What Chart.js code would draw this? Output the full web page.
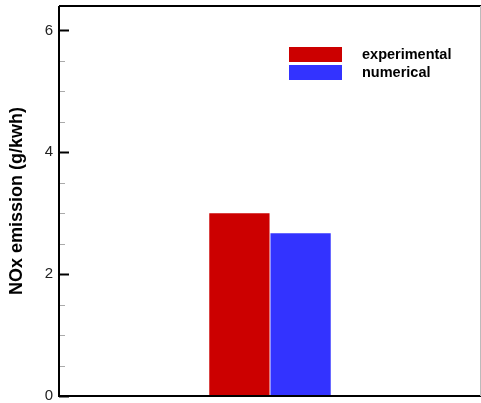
<!DOCTYPE html>
<html>
<head>
<meta charset="utf-8">
<script src="https://cdn.jsdelivr.net/npm/chart.js@4"></script>
<style>
  html, body { margin: 0; padding: 0; background: #fff; }
  #wrap { width: 481px; height: 403px; }
</style>
</head>
<body>
<div id="wrap"><canvas id="c" width="481" height="403"></canvas></div>
<script>
// NOx emission comparison
const categories = [''];
const seriesNames = ['experimental', 'numerical'];
const experimental = [3.0];
const numerical = [2.67];
const seriesColors = ['#cc0000', '#3333ff'];
const yMin = 0;
const yMax = 6.4;
const yTickLabels = [0, 2, 4, 6];
const yMinorStep = 0.5;
const yTitle = 'NOx emission (g/kwh)';

const FONT = 'Arial, "Liberation Sans", Helvetica, sans-serif';

// frame, inward tick marks and the boxed legend
const decor = {
  id: 'decor',
  afterDatasetsDraw(chart) {
    const { ctx, chartArea: a } = chart;
    const y = chart.scales.y;
    ctx.save();
    // inward ticks
    for (let v = yMin; v <= 6 + 1e-9; v += yMinorStep) {
      const py = Math.round(y.getPixelForValue(v)) + 0.5;
      const major = yTickLabels.includes(Math.round(v * 100) / 100);
      ctx.beginPath();
      ctx.strokeStyle = major ? '#000' : '#aaa';
      ctx.lineWidth = major ? 2 : 1;
      ctx.moveTo(a.left, py);
      ctx.lineTo(a.left + (major ? 10 : 6), py);
      ctx.stroke();
    }
    // frame
    ctx.strokeStyle = '#000';
    ctx.lineWidth = 2;
    ctx.beginPath();
    ctx.moveTo(a.left, a.top);
    ctx.lineTo(a.right, a.top);
    ctx.moveTo(a.left, a.top);
    ctx.lineTo(a.left, a.bottom);
    ctx.lineTo(a.right, a.bottom);
    ctx.stroke();
    ctx.strokeStyle = '#bbb';
    ctx.lineWidth = 1;
    ctx.beginPath();
    ctx.moveTo(a.right - 0.5, a.top);
    ctx.lineTo(a.right - 0.5, a.bottom);
    ctx.stroke();
    // legend
    ctx.font = 'bold 14.5px ' + FONT;
    ctx.textBaseline = 'alphabetic';
    ctx.textAlign = 'left';
    chart.data.datasets.forEach((ds, i) => {
      const top = 47 + i * 18;
      ctx.fillStyle = ds.backgroundColor;
      ctx.fillRect(289, top, 53, 15);
      ctx.fillStyle = '#000';
      ctx.fillText(ds.label, 362, top + 7.5 + 4.5);
    });
    ctx.restore();
  }
};

new Chart(document.getElementById('c'), {
  type: 'bar',
  data: {
    labels: categories,
    datasets: [
      { label: seriesNames[0], data: experimental, backgroundColor: seriesColors[0] },
      { label: seriesNames[1], data: numerical, backgroundColor: seriesColors[1] }
    ]
  },
  options: {
    responsive: false,
    animation: false,
    devicePixelRatio: 1,
    layout: { padding: { left: 0, top: 6, right: 0, bottom: 7 } },
    categoryPercentage: 0.29,
    barPercentage: 0.985,
    plugins: { legend: { display: false }, tooltip: { enabled: false } },
    scales: {
      x: { display: false },
      y: {
        min: yMin,
        max: yMax,
        afterFit(s) {
          s.width = 59;
          s.paddingTop = 0;
          s.paddingBottom = 0;
        },
        afterBuildTicks(s) {
          s.ticks = yTickLabels.map(v => ({ value: v }));
        },
        ticks: {
          color: '#222',
          padding: 6,
          font: { family: FONT, size: 15 },
          callback: v => String(v)
        },
        grid: { display: false, drawTicks: false },
        border: { display: false },
        title: {
          display: true,
          text: yTitle,
          color: '#000',
          font: { family: FONT, size: 18, weight: 'bold' },
          padding: { top: 6.5, bottom: 0 }
        }
      }
    }
  },
  plugins: [decor]
});
</script>
</body>
</html>
